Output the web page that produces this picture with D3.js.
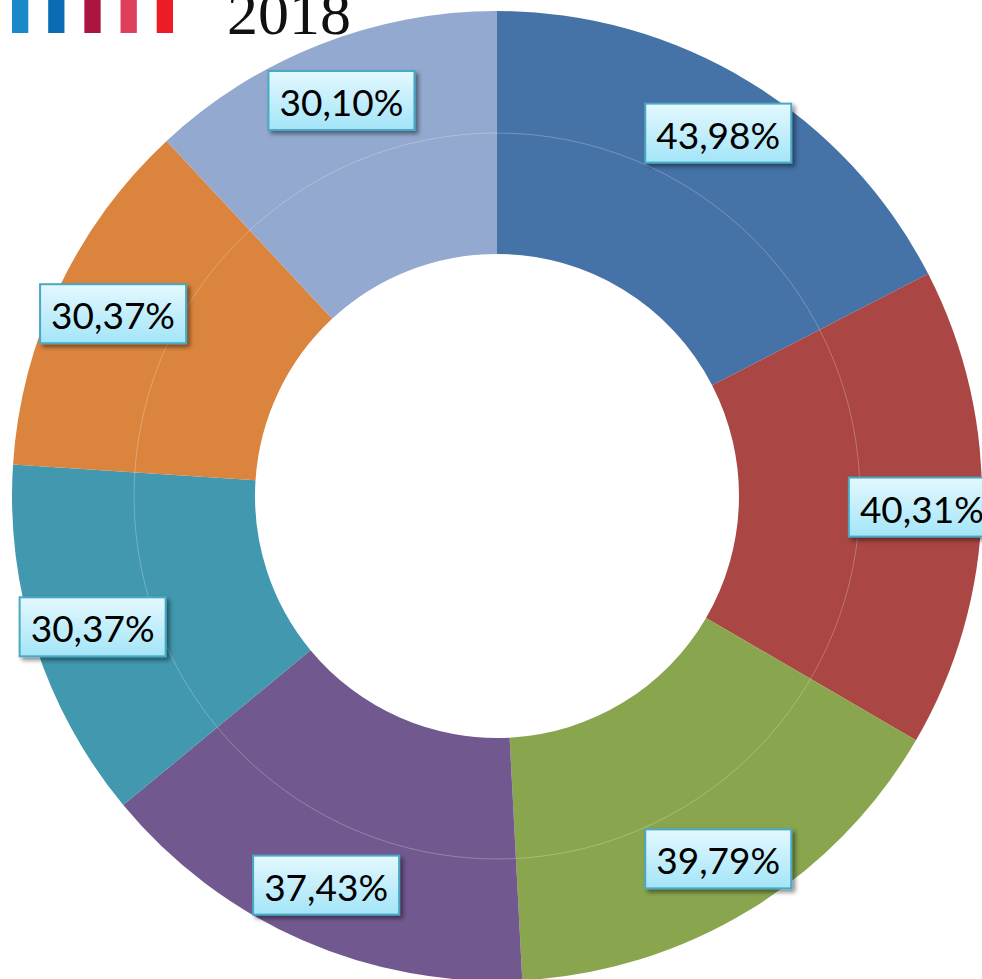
<!DOCTYPE html>
<html>
<head>
<meta charset="utf-8">
<script src="https://cdn.jsdelivr.net/npm/d3@7"></script>
<style>
  html, body { margin: 0; padding: 0; background: #fff; overflow: hidden; }
</style>
</head>
<body>
<svg id="chart" width="982" height="979"></svg>
<script>
var values = [43.98, 40.31, 39.79, 37.43, 30.37, 30.37, 30.10];
var sliceColors = ["#4572A7", "#AA4643", "#89A54E", "#71588F", "#4198AF", "#DB843D", "#93A9CF"];
var logoColors = ["#1b88c9", "#0b6cb5", "#ab1541", "#e03f5b", "#ed1c24"];
var yearLabel = "2018";

var svg = d3.select("#chart");
var width = 982, height = 979;
var cx = 497, cy = 496;
var outerR = 485, innerR = 242, midR = 363, labelR = 425;

var defs = svg.append("defs");
var grad = defs.append("linearGradient")
	.attr("id", "boxGrad")
	.attr("x1", 0).attr("y1", 0).attr("x2", 0).attr("y2", 1);
grad.append("stop").attr("offset", "0%").attr("stop-color", "#e4f8fe");
grad.append("stop").attr("offset", "100%").attr("stop-color", "#a3e5f8");

var shadow = defs.append("filter")
	.attr("id", "shadow")
	.attr("x", "-20%").attr("y", "-20%")
	.attr("width", "150%").attr("height", "160%");
shadow.append("feDropShadow")
	.attr("dx", 3).attr("dy", 3)
	.attr("stdDeviation", 2)
	.attr("flood-color", "#000")
	.attr("flood-opacity", 0.45);

// logo bars + year
var logoX = d3.scaleBand()
	.domain(d3.range(logoColors.length))
	.range([12, 173])
	.paddingInner(0.55)
	.paddingOuter(0);
svg.append("g").selectAll("rect")
	.data(logoColors)
	.enter()
	.append("rect")
	.attr("x", (d, i) => logoX(i))
	.attr("y", -2)
	.attr("width", logoX.bandwidth())
	.attr("height", 35)
	.attr("fill", d => d);

svg.append("text")
	.attr("x", 227)
	.attr("y", 34)
	.attr("font-family", "'Liberation Serif', 'DejaVu Serif', serif")
	.attr("font-size", "62px")
	.attr("fill", "#111")
	.text(yearLabel);

var pie = d3.pie().sort(null).value(d => d);
var arcs = pie(values);

var g = svg.append("g").attr("transform", `translate(${cx},${cy})`);

var arc = d3.arc().innerRadius(innerR).outerRadius(outerR);
g.selectAll("path.slice")
	.data(arcs)
	.enter()
	.append("path")
	.attr("class", "slice")
	.attr("d", arc)
	.attr("fill", (d, i) => sliceColors[i]);

// faint ring between inner and outer band
g.append("circle")
	.attr("r", midR)
	.attr("fill", "none")
	.attr("stroke", "#fff")
	.attr("stroke-opacity", 0.25)
	.attr("stroke-width", 1);

var labelArc = d3.arc().innerRadius(labelR).outerRadius(labelR);
var boxW = 146, boxH = 59;
var labels = g.selectAll("g.label")
	.data(arcs)
	.enter()
	.append("g")
	.attr("class", "label")
	.attr("transform", d => `translate(${labelArc.centroid(d)})`);

labels.append("rect")
	.attr("x", -boxW / 2)
	.attr("y", -boxH / 2)
	.attr("width", boxW)
	.attr("height", boxH)
	.attr("fill", "url(#boxGrad)")
	.attr("stroke", "#4aa9c4")
	.attr("stroke-width", 2)
	.attr("filter", "url(#shadow)");

labels.append("text")
	.attr("text-anchor", "middle")
	.attr("dominant-baseline", "central")
	.attr("y", 1)
	.attr("font-family", "Lato, 'Open Sans', sans-serif")
	.attr("font-size", "37px")
	.attr("fill", "#000")
	.text(d => d3.format(".2f")(d.data).replace(".", ",") + "%");
</script>
</body>
</html>
